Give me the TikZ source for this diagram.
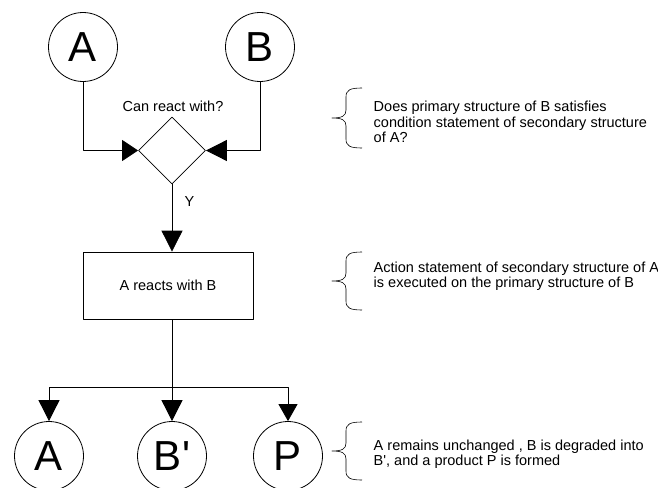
\documentclass[tikz,border=0pt]{standalone}
\usepackage{fontspec}
\setmainfont{Liberation Sans}
\usetikzlibrary{shapes.geometric,arrows.meta}
% curly bracket: top y, bottom y
\newcommand\curly[2]{%
  \draw (362,#1) .. controls (350,#1) and (346,#1+2) .. (346,#1+9)
    -- (346,{(#1+#2)/2-8}) .. controls (346,{(#1+#2)/2-2}) and (342,{(#1+#2)/2}) .. (332,{(#1+#2)/2})
    .. controls (342,{(#1+#2)/2}) and (346,{(#1+#2)/2+2}) .. (346,{(#1+#2)/2+8})
    -- (346,#2-9) .. controls (346,#2-2) and (350,#2) .. (362,#2);}
\begin{document}
\begin{tikzpicture}[x=1pt, y=-1pt, line join=round, line width=0.8pt, font=\fontsize{14.5}{15.5}\selectfont,
  mol/.style={draw, circle, minimum size=69pt, inner sep=0pt, font=\fontsize{42}{42}\selectfont},
  big/.style={-{Triangle[length=21pt,width=21pt]}},
  side/.style={-{Triangle[length=#1,width=21pt]}},
  small/.style={-{Triangle[length=17pt,width=19pt]}},
  note/.style={anchor=west, align=left}]
\useasboundingbox (0,0) rectangle (658,487);
\node[mol] (a1) at (83,47) {A};
\node[mol] (b1) at (260,47) {B};
\node[draw, diamond, minimum size=67pt, inner sep=0pt] (dec) at (172,150.5) {};
\node (ask) at (173,106) {Can react with?};
\node[draw, minimum width=170pt, minimum height=67pt] (act) at (168,285.5) {A reacts with B};
\coordinate (split) at (172,387);
\node[mol] (a2) at (49,456) {A};
\node[mol] (b2) at (172,456) {B\textquotesingle};
\node[mol] (p2) at (288,456) {P};
% connectors
\draw[side=16pt] (a1) |- (dec.west);
\draw[side=21pt] (b1) |- (dec.east);
\draw[big] (dec.south) -- node[right=9pt, pos=0.25] {Y} (dec.south |- act.north);
\draw (dec.south |- act.south) -- (split);
\draw[big] (split) -| (a2);
\draw[big] (split) -- (b2);
\draw[small] (split) -| (p2);
% notes
\begin{scope}[line width=0.6pt]
\curly{88}{148}
\curly{252}{310}
\curly{422}{480}
\end{scope}
\node[note] (n1) at (370,122) {Does primary structure of B satisfies\\condition statement of secondary structure\\of A?};
\node[note] (n2) at (370,276) {Action statement of secondary structure of A\\is executed on the primary structure of B};
\node[note] (n3) at (370,454) {A remains unchanged , B is degraded into\\B\textquotesingle, and a product P is formed};
\end{tikzpicture}
\end{document}
